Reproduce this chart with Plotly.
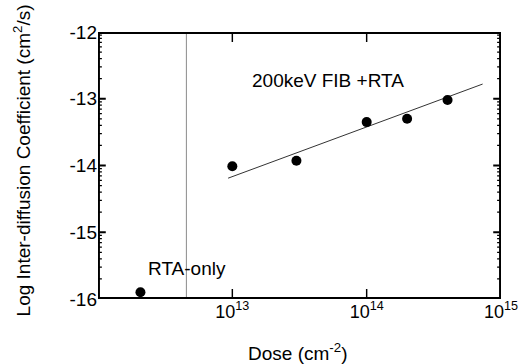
import math
import plotly.graph_objects as go

# Data
dose = [1e13, 3e13, 1e14, 2e14, 4e14]
log_D = [-14.01, -13.93, -13.35, -13.30, -13.02]
rta_only_dose = [2.07e12]
rta_only_logD = [-15.90]
fit_dose = [9.3e12, 7.3e14]
fit_logD = [-14.19, -12.78]
divider_dose = [4.55e12, 4.55e12]
divider_logD = [-16, -12]

x_range_log = [12, 15]
y_range = [-16, -12]
x_tickvals = [1e13, 1e14, 1e15]
x_ticktext = ["10<sup>13</sup>", "10<sup>14</sup>", "10<sup>15</sup>"]
x_tickmarks = [1e13, 1e14]
y_tickvals = [-12, -13, -14, -15, -16]
y_ticktext = ["-12", "-13", "-14", "-15", "-16"]
y_minor = [L + math.log10(k) for L in (-16, -15, -14, -13) for k in range(2, 10)]

FONT = "Liberation Sans, Arial, Helvetica, sans-serif"
FS = 19
W, H = 530, 364
ML, MR, MT, MB = 98, 17, 32, 65
PW, PH = W - ML - MR, H - MT - MB
DX = (x_range_log[1] - x_range_log[0]) / PW   # decades per pixel
DY = (y_range[1] - y_range[0]) / PH           # y units per pixel


def rect(xs, ys, lx0, lx1, y0, y1):
    xs += [10 ** lx0, 10 ** lx1, 10 ** lx1, 10 ** lx0, 10 ** lx0, None]
    ys += [y0, y0, y1, y1, y0, None]


# frame (2 px) and inward tick marks as thin filled rectangles
fx, fy = [], []
x0, x1 = x_range_log
y0, y1 = y_range
rect(fx, fy, x0, x1, y0, y0 + 2 * DY)
rect(fx, fy, x0, x1, y1 - 2 * DY, y1)
rect(fx, fy, x0, x0 + 2 * DX, y0, y1)
rect(fx, fy, x1 - 2 * DX, x1, y0, y1)

tx, ty = [], []
for v in y_tickvals:
    rect(tx, ty, x0, x0 + 8 * DX, v - DY, v + DY)
    rect(tx, ty, x1 - 8 * DX, x1, v - DY, v + DY)
for v in y_minor:
    rect(tx, ty, x0, x0 + 4 * DX, v - 0.6 * DY, v + 0.6 * DY)
    rect(tx, ty, x1 - 4 * DX, x1, v - 0.6 * DY, v + 0.6 * DY)
for v in x_tickmarks:
    lv = math.log10(v)
    rect(tx, ty, lv - 0.75 * DX, lv + 0.75 * DX, y0, y0 + 10 * DY)
    rect(tx, ty, lv - 0.75 * DX, lv + 0.75 * DX, y1 - 10 * DY, y1)

fig = go.Figure()
fig.add_trace(go.Scatter(x=divider_dose, y=divider_logD, mode="lines",
                         line=dict(color="#8a8a8a", width=1), showlegend=False))
fig.add_trace(go.Scatter(x=fit_dose, y=fit_logD, mode="lines",
                         line=dict(color="#333333", width=1), showlegend=False))
fig.add_trace(go.Scatter(x=dose, y=log_D, mode="markers",
                         marker=dict(color="black", size=10), showlegend=False))
fig.add_trace(go.Scatter(x=rta_only_dose, y=rta_only_logD, mode="markers",
                         marker=dict(color="black", size=10), showlegend=False))
for xs, ys in ((fx, fy), (tx, ty)):
    fig.add_trace(go.Scatter(x=xs, y=ys, mode="lines", fill="toself",
                             fillcolor="black", line=dict(width=0, color="black"),
                             showlegend=False, hoverinfo="skip"))

fig.update_layout(
    width=W, height=H,
    margin=dict(l=ML, r=MR, t=MT, b=MB),
    paper_bgcolor="white", plot_bgcolor="white",
    font=dict(family=FONT, size=FS, color="black"),
)
fig.update_xaxes(type="log", range=x_range_log,
                 tickmode="array", tickvals=x_tickvals, ticktext=x_ticktext,
                 ticks="", showline=False, showgrid=False, zeroline=False,
                 ticklabeloverflow="allow", tickfont=dict(size=18))
fig.update_yaxes(range=y_range, tickmode="array",
                 tickvals=y_tickvals, ticktext=y_ticktext,
                 ticks="", showline=False, showgrid=False, zeroline=False,
                 tickfont=dict(size=FS))
fig.update_layout(annotations=[
    dict(text="200keV FIB +RTA", xref="paper", yref="paper", x=0.570, y=0.865,
         showarrow=False, font=dict(size=FS)),
    dict(text="RTA-only", xref="paper", yref="paper", x=0.120, y=0.116,
         yanchor="middle", showarrow=False, font=dict(size=FS)),
    dict(text="Dose (cm<sup>-2</sup>)", xref="paper", yref="paper", x=0.495, y=-0.198,
         yanchor="middle", showarrow=False, font=dict(size=FS)),
    dict(text="Log Inter-diffusion Coefficient (cm<sup>2</sup>/s)", xref="paper",
         yref="paper", x=-0.188, y=0.52, textangle=-90, xanchor="center",
         yanchor="middle", showarrow=False, font=dict(size=FS)),
])

fig.write_html("out.html")
